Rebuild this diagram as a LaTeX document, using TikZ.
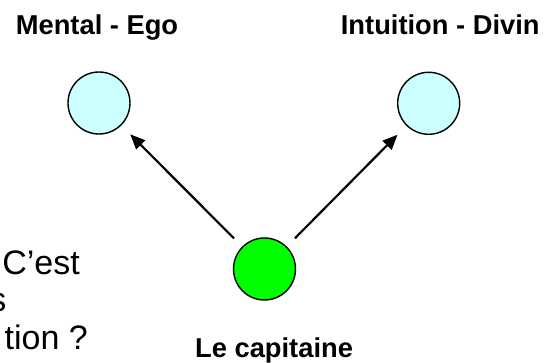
\documentclass[tikz,border=0pt]{standalone}
\usepackage{fontspec}
\setmainfont{Liberation Sans}
\usetikzlibrary{arrows.meta}
\definecolor{lightcyan}{HTML}{CCFFFF}
\definecolor{brightgreen}{HTML}{00FF00}
\tikzset{
  ball/.style={circle, draw=black, line width=1.4pt, minimum size=62pt, inner sep=0pt},
  topball/.style={ball, fill=lightcyan},
  greenball/.style={ball, fill=brightgreen},
  lbl/.style={inner sep=0pt, font=\fontsize{27.3}{30}\selectfont\bfseries},
  bigtxt/.style={inner sep=0pt, font=\fontsize{34}{38}\selectfont},
  arr/.style={-{Triangle[length=15pt,width=12.5pt]}, line width=2.2pt, shorten <=11.5pt, shorten >=12.5pt}
}
\begin{document}
\begin{tikzpicture}[x=1pt,y=1pt]
\useasboundingbox (0,0) rectangle (547,363);
\clip (0,0) rectangle (547,363);
\node[topball] (ego) at (99,260) {};
\node[topball] (divin) at (428.7,259.7) {};
\node[greenball] (cap) at (264.5,94) {};
\draw[arr] (cap) -- (ego);
\draw[arr] (cap) -- (divin);
\node[lbl, anchor=base west] (tego) at (15.7,328) {Mental - Ego};
\node[lbl, anchor=base west] (tdivin) at (340.7,328) {Intuition - Divin};
\node[lbl, anchor=base west] (tcap) at (195,5.5) {Le capitaine};
\node[bigtxt, anchor=base east] (l1) at (80,88) {C’est};
\node[bigtxt, anchor=base east] (l2) at (6.7,51.5) {s};
\node[bigtxt, anchor=base east] (l3) at (88,13) {tion ?};
\end{tikzpicture}
\end{document}
